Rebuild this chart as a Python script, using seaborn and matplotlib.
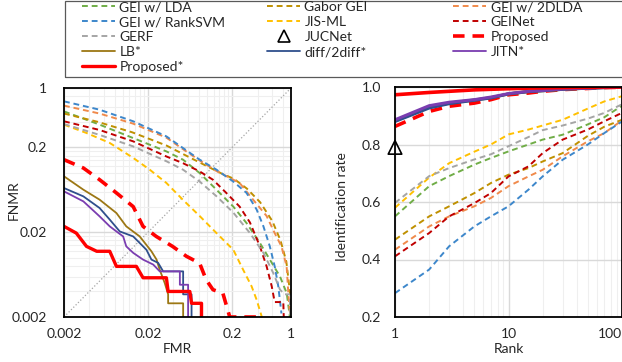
import matplotlib
matplotlib.use("Agg")
import matplotlib.pyplot as plt
import matplotlib.ticker as mticker
from matplotlib.lines import Line2D
from matplotlib.patches import Rectangle
import numpy as np
import seaborn as sns

# ---------------- DET curves (left panel) ----------------
LDA_FMR = [0.002, 0.0053, 0.0133, 0.033, 0.052, 0.082, 0.13, 0.206, 0.296, 0.427, 0.56, 0.74, 0.89, 0.97]
LDA_FNMR = [0.53, 0.37, 0.257, 0.179, 0.143, 0.0995, 0.0633, 0.040, 0.0256, 0.0149, 0.0095, 0.006, 0.0038, 0.002]

GABOR_FMR = [0.002, 0.005, 0.013, 0.033, 0.06, 0.1, 0.15, 0.21, 0.3, 0.43, 0.6, 0.75, 0.88, 0.97, 0.99]
GABOR_FNMR = [0.50, 0.40, 0.30, 0.21, 0.155, 0.12, 0.098, 0.085, 0.065, 0.045, 0.027, 0.016, 0.009, 0.004, 0.002]

DLDA_FMR = [0.002, 0.0053, 0.0133, 0.033, 0.052, 0.082, 0.13, 0.245, 0.356, 0.513, 0.64, 0.77, 0.887, 0.93, 0.97]
DLDA_FNMR = [0.62, 0.50, 0.38, 0.26, 0.19, 0.14, 0.105, 0.076, 0.048, 0.031, 0.0195, 0.0136, 0.0079, 0.0038, 0.0022]

RSVM_FMR = [0.002, 0.0053, 0.0133, 0.033, 0.052, 0.082, 0.13, 0.206, 0.296, 0.39, 0.47, 0.56, 0.64, 0.706, 0.77]
RSVM_FNMR = [0.696, 0.555, 0.405, 0.269, 0.196, 0.143, 0.109, 0.079, 0.058, 0.037, 0.0234, 0.0136, 0.0079, 0.0046, 0.0022]

JIS_FMR = [0.002, 0.0037, 0.007, 0.0133, 0.0209, 0.033, 0.052, 0.082, 0.13, 0.206, 0.27, 0.34, 0.39, 0.45]
JIS_FNMR = [0.37, 0.295, 0.225, 0.15, 0.109, 0.076, 0.048, 0.031, 0.0195, 0.0124, 0.0072, 0.0046, 0.0032, 0.002]

GEINET_FMR = [0.002, 0.0053, 0.0133, 0.033, 0.052, 0.082, 0.118, 0.17, 0.245, 0.325, 0.427, 0.513, 0.59, 0.64, 0.81, 0.82]
GEINET_FNMR = [0.405, 0.32, 0.235, 0.156, 0.13, 0.104, 0.083, 0.058, 0.04, 0.026, 0.0136, 0.0079, 0.0046, 0.003, 0.003, 0.002]

GERF_FMR = [0.002, 0.0053, 0.0133, 0.033, 0.052, 0.082, 0.13, 0.206, 0.325, 0.47, 0.615, 0.74, 0.84, 0.97, 0.98]
GERF_FNMR = [0.376, 0.28, 0.205, 0.137, 0.109, 0.079, 0.053, 0.034, 0.0195, 0.0114, 0.0066, 0.0042, 0.0037, 0.0037, 0.002]

PROP_FMR = [0.002, 0.0034, 0.0053, 0.0084, 0.0133, 0.0174, 0.025, 0.039, 0.057, 0.082, 0.098, 0.118, 0.155, 0.187, 0.4]
PROP_FNMR = [0.143, 0.114, 0.083, 0.058, 0.040, 0.0234, 0.0178, 0.0136, 0.0104, 0.0086, 0.0055, 0.0042, 0.0038, 0.002, 0.002]

LB_FMR = [0.002, 0.0034, 0.0053, 0.0084, 0.011, 0.0159, 0.0219, 0.0252, 0.0275, 0.0316, 0.0346, 0.0346, 0.0522, 0.0522]
LB_FNMR = [0.091, 0.0633, 0.0483, 0.0336, 0.0234, 0.0178, 0.0119, 0.0095, 0.0072, 0.005, 0.0037, 0.0029, 0.0029, 0.0018]

DIFF_FMR = [0.002, 0.0034, 0.0053, 0.007, 0.0092, 0.0133, 0.0191, 0.0219, 0.0263, 0.0302, 0.0522, 0.0522, 0.0657, 0.0657]
DIFF_FNMR = [0.0662, 0.0528, 0.0385, 0.0281, 0.0204, 0.0178, 0.0124, 0.0095, 0.0087, 0.0069, 0.0069, 0.0037, 0.0037, 0.0018]

JITN_FMR = [0.002, 0.0034, 0.0053, 0.007, 0.0084, 0.0101, 0.011, 0.0133, 0.0174, 0.023, 0.0275, 0.0477, 0.0477, 0.0598, 0.0598]
JITN_FNMR = [0.0605, 0.0461, 0.0307, 0.0234, 0.0204, 0.0178, 0.0136, 0.0114, 0.0095, 0.0083, 0.0069, 0.0069, 0.0048, 0.0048, 0.0018]

PROPS_FMR = [0.002, 0.0028, 0.0037, 0.0049, 0.007, 0.0084, 0.0145, 0.0174, 0.033, 0.0346, 0.0627, 0.0657, 0.0863, 0.0863]
PROPS_FNMR = [0.0234, 0.0195, 0.0136, 0.0119, 0.0119, 0.0079, 0.0079, 0.0058, 0.0058, 0.0040, 0.0040, 0.0029, 0.0029, 0.0018]

# ---------------- CMC curves (right panel) ----------------
RANKS = [1, 2, 3, 5, 7, 10, 15, 20, 30, 50, 70, 100]
LDA_CMC = [0.55, 0.655, 0.69, 0.73, 0.753, 0.776, 0.80, 0.817, 0.834, 0.87, 0.895, 0.935]
GABOR_CMC = [0.469, 0.55, 0.585, 0.631, 0.666, 0.695, 0.718, 0.741, 0.77, 0.83, 0.862, 0.886]
DLDA_CMC = [0.434, 0.515, 0.55, 0.585, 0.614, 0.655, 0.689, 0.712, 0.759, 0.811, 0.84, 0.884]
RSVM_CMC = [0.283, 0.365, 0.446, 0.515, 0.55, 0.585, 0.643, 0.689, 0.747, 0.80, 0.84, 0.88]
JIS_CMC = [0.58, 0.685, 0.735, 0.775, 0.80, 0.835, 0.852, 0.866, 0.886, 0.925, 0.95, 0.968]
GEINET_CMC = [0.411, 0.492, 0.55, 0.596, 0.631, 0.689, 0.724, 0.77, 0.817, 0.852, 0.881, 0.91]
GERF_CMC = [0.597, 0.69, 0.718, 0.748, 0.766, 0.794, 0.826, 0.85, 0.866, 0.89, 0.91, 0.94]
PROP_CMC = [0.863, 0.915, 0.933, 0.944, 0.956, 0.973, 0.979, 0.985, 0.991, 0.995, 0.998, 0.999]
LB_CMC = [0.882, 0.93, 0.944, 0.955, 0.963, 0.976, 0.984, 0.987, 0.992, 0.996, 0.998, 0.999]
DIFF_CMC = [0.88, 0.927, 0.942, 0.954, 0.962, 0.976, 0.984, 0.987, 0.992, 0.996, 0.998, 0.999]
JITN_CMC = [0.886, 0.935, 0.947, 0.956, 0.965, 0.977, 0.985, 0.988, 0.993, 0.996, 0.998, 0.999]
PROPS_CMC = [0.973, 0.981, 0.985, 0.99, 0.992, 0.994, 0.996, 0.997, 0.998, 0.999, 1.0, 1.0]
JUCNET_RANK1 = 0.79

DASH = (0, (3, 2))
DASH_BIG = (0, (3.2, 2.2))

# name, det x, det y, cmc, colour, linestyle, lw (left), lw (right)
SERIES = [
    ("GEI w/ LDA", LDA_FMR, LDA_FNMR, LDA_CMC, "#70AD47", DASH, 1.4, 1.4),
    ("Gabor GEI", GABOR_FMR, GABOR_FNMR, GABOR_CMC, "#BF9000", DASH, 1.4, 1.4),
    ("GEI w/ 2DLDA", DLDA_FMR, DLDA_FNMR, DLDA_CMC, "#F08A4B", DASH, 1.4, 1.4),
    ("GEI w/ RankSVM", RSVM_FMR, RSVM_FNMR, RSVM_CMC, "#3D87CB", DASH, 1.4, 1.4),
    ("JIS-ML", JIS_FMR, JIS_FNMR, JIS_CMC, "#FFC000", DASH, 1.4, 1.4),
    ("GEINet", GEINET_FMR, GEINET_FNMR, GEINET_CMC, "#C00000", DASH, 1.4, 1.4),
    ("GERF", GERF_FMR, GERF_FNMR, GERF_CMC, "#A5A5A5", DASH, 1.4, 1.4),
    ("Proposed", PROP_FMR, PROP_FNMR, PROP_CMC, "#FF0000", DASH_BIG, 2.6, 2.6),
    ("LB*", LB_FMR, LB_FNMR, LB_CMC, "#9C7714", "-", 1.3, 2.2),
    ("diff/2diff*", DIFF_FMR, DIFF_FNMR, DIFF_CMC, "#2F4F8C", "-", 1.3, 2.2),
    ("JITN*", JITN_FMR, JITN_FNMR, JITN_CMC, "#7A3DB0", "-", 1.3, 2.2),
    ("Proposed*", PROPS_FMR, PROPS_FNMR, PROPS_CMC, "#FF0000", "-", 2.4, 2.6),
]

sns.set_style("white")
plt.rcParams["font.family"] = ["Lato", "DejaVu Sans"]
plt.rcParams["font.size"] = 10

W, H = 622, 362
fig = plt.figure(figsize=(W / 100, H / 100), dpi=100)
ax1 = fig.add_axes([64 / W, 1 - 317 / H, 227 / W, 229 / H])
ax2 = fig.add_axes([395 / W, 1 - 317 / H, 227 / W, 230 / H])

# ---- left: DET ----
ax1.set_xscale("log")
ax1.set_yscale("log")
ax1.set_xlim(0.002, 1)
ax1.set_ylim(0.002, 1)
handles = {}
for name, fx, fy, _, col, ls, lw, _ in SERIES:
    sns.lineplot(x=fx, y=fy, ax=ax1, color=col, lw=lw, linestyle=ls,
                 estimator=None, sort=False, legend=False)
    handles[name] = Line2D([], [], color=col, lw=lw, linestyle=ls)
ax1.plot([0.002, 1], [0.002, 1], ls=":", color="#A6A6A6", lw=0.9, zorder=1)

log_ticks = [0.002, 0.02, 0.2, 1]
minor = [m * 0.002 * 10 ** d for d in range(3) for m in range(2, 10)]
for axis in (ax1.xaxis, ax1.yaxis):
    axis.set_major_locator(mticker.FixedLocator(log_ticks))
    axis.set_major_formatter(mticker.FixedFormatter(["0.002", "0.02", "0.2", "1"]))
    axis.set_minor_locator(mticker.FixedLocator([v for v in minor if v < 1]))
    axis.set_minor_formatter(mticker.NullFormatter())
ax1.grid(which="major", color="#D9D9D9", lw=1.0)
ax1.grid(which="minor", color="#EFEFEF", lw=0.8)
ax1.set_axisbelow(True)
ax1.tick_params(which="major", direction="in", length=3, width=1, labelsize=10)
ax1.tick_params(which="minor", length=0)
ax1.tick_params(axis="y", pad=12)
ax1.tick_params(axis="x", pad=8)
ax1.set_xlabel("FMR", fontsize=10)
ax1.set_ylabel("FNMR", fontsize=10)
ax1.xaxis.set_label_coords(0.5, -0.115)
ax1.yaxis.set_label_coords(-0.195, 0.51)

# ---- right: CMC ----
ax2.set_xscale("log")
ax2.set_xlim(1, 100)
ax2.set_ylim(0.2, 1.0)
for name, _, _, cmc, col, ls, _, lw in SERIES:
    sns.lineplot(x=RANKS, y=cmc, ax=ax2, color=col, lw=lw, linestyle=ls,
                 estimator=None, sort=False, legend=False)
sns.scatterplot(x=[1], y=[JUCNET_RANK1], ax=ax2, marker="^", s=95,
                facecolor="none", edgecolor="black", linewidth=1.2,
                clip_on=False, zorder=10, legend=False)
handles["JUCNet"] = Line2D([], [], ls="none", marker="^", ms=8,
                           mfc="none", mec="black", mew=1.2)

ax2.set_xticks([1, 10, 100], labels=["1", "10", "100"])
ax2.get_xticklabels()[-1].set_horizontalalignment("right")
ax2.xaxis.set_minor_locator(mticker.FixedLocator(list(range(2, 10)) + list(range(20, 100, 10))))
ax2.xaxis.set_minor_formatter(mticker.NullFormatter())
ax2.yaxis.set_major_locator(mticker.FixedLocator([0.2, 0.4, 0.6, 0.8, 1.0]))
ax2.yaxis.set_major_formatter(mticker.FormatStrFormatter("%.1f"))
ax2.grid(which="major", color="#D9D9D9", lw=1.0)
ax2.grid(which="minor", axis="x", color="#EFEFEF", lw=0.8)
ax2.set_axisbelow(True)
ax2.tick_params(which="major", direction="in", length=3, width=1, labelsize=10)
ax2.tick_params(which="minor", length=0)
ax2.tick_params(axis="y", pad=10)
ax2.tick_params(axis="x", pad=8)
ax2.set_xlabel("Rank", fontsize=10)
ax2.set_ylabel("Identification rate", fontsize=10)
ax2.xaxis.set_label_coords(0.5, -0.112)
ax2.yaxis.set_label_coords(-0.205, 0.48)

for ax in (ax1, ax2):
    for sp in ax.spines.values():
        sp.set_color("black")
        sp.set_linewidth(1.3)

# ---- legend: three columns in one frame ----
columns = [
    (82, ["GEI w/ LDA", "GEI w/ RankSVM", "GERF", "LB*", "Proposed*"]),
    (267, ["Gabor GEI", "JIS-ML", "JUCNet", "diff/2diff*"]),
    (453, ["GEI w/ 2DLDA", "GEINet", "Proposed", "JITN*"]),
]
for x0, names in columns:
    fig.legend([handles[n] for n in names], names, loc="upper left",
               bbox_to_anchor=(x0 / W, 1 - 1 / H), frameon=False, borderpad=0,
               borderaxespad=0, handlelength=2.4, handletextpad=0.3,
               labelspacing=0.22, fontsize=10)
fig.patches.append(Rectangle((64.5 / W, 1 - 76.5 / H), 1.0, 76 / H,
                             transform=fig.transFigure, fill=False,
                             edgecolor="#595959", lw=0.9))

fig.savefig("out.png", dpi=100)
